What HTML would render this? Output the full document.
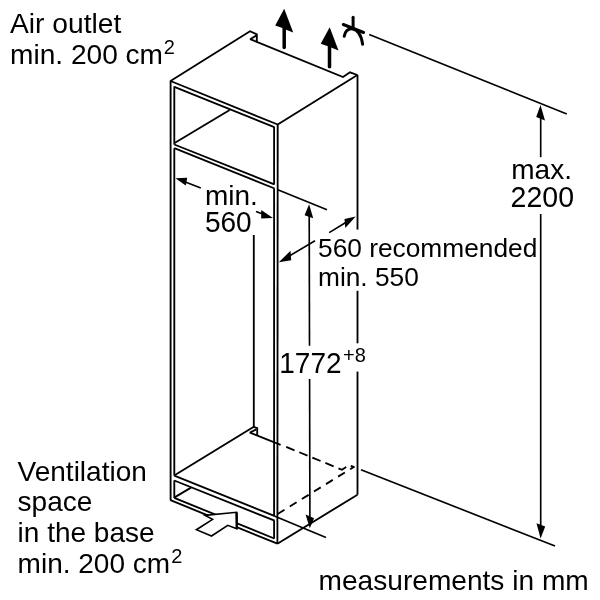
<!DOCTYPE html>
<html>
<head>
<meta charset="utf-8">
<title>Installation dimensions</title>
<style>
html,body{margin:0;padding:0;background:#fff;}
body{width:600px;height:600px;overflow:hidden;}
svg{display:block;will-change:transform;}
text{font-family:"Liberation Sans",Arial,Helvetica,sans-serif;font-size:28px;fill:#000;}
.s{font-size:20px;}
.l{fill:none;stroke:#000;stroke-width:1.85;stroke-linecap:butt;stroke-linejoin:miter;stroke-miterlimit:2;}
.d{fill:none;stroke:#000;stroke-width:1.65;}
.k{fill:#000;stroke:none;}
</style>
</head>
<body>
<svg width="600" height="600" viewBox="0 0 600 600">
<rect width="600" height="600" fill="#fff"/>

<!-- cabinet outline -->
<g>
  <path class="l" d="M170.5 81 L250 31.2 L256.8 34.3 L256.8 41.8"/>
  <path class="l" d="M256.2 35.6 L250.2 39.2 L343 77 L350 72.3 L357.4 75"/>
  <path class="l" d="M357.4 75 L277.7 124.5"/>
  <path class="l" d="M170.5 81 L277.7 124.5"/>
  <path class="l" d="M174.3 86.8 L274.3 127.2"/>
  <path class="l" d="M170.6 80.5 L170.6 500.4"/>
  <path class="l" d="M174.3 86.3 L174.3 144.6"/>
  <path class="l" d="M174.3 148.2 L174.3 475.8"/>
  <path class="l" d="M174.3 480.4 L174.3 498"/>
  <path class="l" d="M274.1 126.8 L274.1 184.6"/>
  <path class="l" d="M274.1 188.4 L274.1 516"/>
  <path class="l" d="M274.1 520.6 L274.1 538.6"/>
  <path class="l" d="M277.7 124.2 L277.4 544"/>
  <path class="l" d="M357.5 74.8 L357.5 229.6"/>
  <path class="l" d="M357.5 290.8 L357.5 343.3"/>
  <path class="l" d="M357.5 371.6 L357.5 494.7"/>
  <path class="l" d="M253.8 235 L253.8 427"/>
  <path class="l" d="M174.6 143 L229.7 110"/>
  <path class="l" d="M174.3 144.5 L274.3 184.4"/>
  <path class="l" d="M174.3 148.2 L274.6 188.5"/>
  <path class="l" d="M174.6 475.3 L253.8 426.8 L257.2 428.2 L257.2 435.4"/>
  <path class="l" d="M256.3 429.4 L249.9 432.6 L280.6 444.8"/>
  <path class="l" d="M174.3 475.7 L274.3 515.9"/>
  <path class="l" d="M174.3 480.5 L274.6 520.7"/>
  <path class="l" d="M174.6 497.4 L191 487.6"/>
  <path class="l" d="M174.3 497.9 L274.3 538.5"/>
  <path class="l" d="M170.5 500.2 L277.4 543.7"/>
  <path class="l" d="M277.4 543.7 L357.5 494.7"/>
</g>
<!-- dimension and extension lines -->
<g>
  <path class="d" d="M277.2 189.4 L327 209.8"/>
  <path class="d" d="M274.3 516 L326 537.4"/>
  <path class="d" d="M309.2 214 L309.5 345.8"/>
  <path class="d" d="M309.6 379 L309.9 518"/>
  <path class="d" d="M369.2 34.5 L566.8 114"/>
  <path class="d" d="M361 469.8 L555 546"/>
  <path class="d" d="M540.7 116 L540.7 157.2"/>
  <path class="d" d="M540.7 214 L540.7 526"/>
  <path class="d" d="M184 181.6 L200.8 188"/>
  <path class="d" d="M256 211.4 L264 214.6"/>
  <path class="d" d="M288 256.8 L315 240.8"/>
  <path class="d" d="M329.2 232.6 L347 221.8"/>
  <path class="l" d="M286.25 446.9 L342 469.8 L349 465.2 L354.4 467.2" stroke-dasharray="8.9 5.2"/>
  <path class="l" d="M277.7 514 L354.3 466.6" stroke-dasharray="8 6.2"/>
</g>
<!-- arrow heads -->
<g>
  <path class="k" d="M175.4 178.3 L187.2 177.8 L185.8 185.6 Z"/>
  <path class="k" d="M273 218 L261.2 210 L261.2 218.4 Z"/>
  <path class="k" d="M278.8 262.2 L290.5 250.8 L291.2 260.2 Z"/>
  <path class="k" d="M355.7 216.4 L344.5 219 L345.3 228 Z"/>
  <path class="k" d="M309.1 204.2 L304.6 215.2 L313.2 218.2 Z"/>
  <path class="k" d="M309.8 528.2 L305.6 514.5 L314.1 518.2 Z"/>
  <path class="k" d="M540.5 105 L536.2 117 L545 120.5 Z"/>
  <path class="k" d="M540.6 538.5 L536.5 523.2 L545.2 526.5 Z"/>
</g>
<!-- air outlet arrows -->
<g>
  <path class="k" d="M284.2 8.8 L275.2 25.5 L282.5 28 L285.5 29.4 L293.2 32.6 Z"/>
  <path d="M284.2 26 L284.2 47.6" stroke="#000" stroke-width="3.5" stroke-linecap="round" fill="none"/>
  <path class="k" d="M329.7 27.2 L320.7 43.7 L328 46.2 L331 47.6 L338.5 50.5 Z"/>
  <path d="M329.5 44 L329.5 66.8" stroke="#000" stroke-width="3.5" stroke-linecap="round" fill="none"/>
</g>
<!-- ceiling symbol -->
<g fill="none" stroke="#000" stroke-width="3" stroke-linecap="round">
  <path d="M353.1 17.3 L353.1 27.5"/>
  <path d="M343.3 24.5 L363.6 32.5"/>
  <path d="M344.2 36.3 C345.3 31 348.5 28.6 352 28.8 C357.5 29.6 361.3 35 362.6 44.2"/>
</g>
<!-- block arrow -->
<path d="M205 515.4 L236.5 512.3 L236.8 528.8 L227.8 525.3 L211.5 536 L196.4 529.7 L212.6 519.4 Z" fill="#fff" stroke="#000" stroke-width="1.6" stroke-linejoin="miter"/>
<path d="M236.6 512.3 L236.8 528.8" stroke="#000" stroke-width="2.4" fill="none"/>
<!-- text -->
<text x="10" y="32.9" style="font-size:28.2px">Air outlet</text>
<text x="10" y="64.3" style="font-size:28.1px">min. 200 cm</text>
<text transform="translate(163.8 54.3) scale(1 1.04)" style="font-size:20px">2</text>
<text x="205" y="204.8">min.</text>
<text transform="translate(205 232) scale(1 1.04)">560</text>
<text x="318" y="257.4" style="font-size:26.3px">560 recommended</text>
<text x="318" y="286" style="font-size:26.3px">min. 550</text>
<text transform="translate(279.3 372.9) scale(1 1.04)">1772</text>
<text transform="translate(343.0 362.2) scale(1 1.04)" style="font-size:20px">+8</text>
<text x="511.3" y="179">max.</text>
<text transform="translate(510.6 207.2) scale(1 1.03)" style="font-size:28.5px">2200</text>
<text x="17.6" y="480.9">Ventilation</text>
<text x="17.6" y="510.9">space</text>
<text x="17.6" y="542">in the base</text>
<text x="17.6" y="573.3">min. 200 cm</text>
<text transform="translate(171.2 563.2) scale(1 1.04)" style="font-size:20px">2</text>
<text x="318.6" y="589.5" style="font-size:28.1px">measurements in mm</text>
</svg>
</body>
</html>
